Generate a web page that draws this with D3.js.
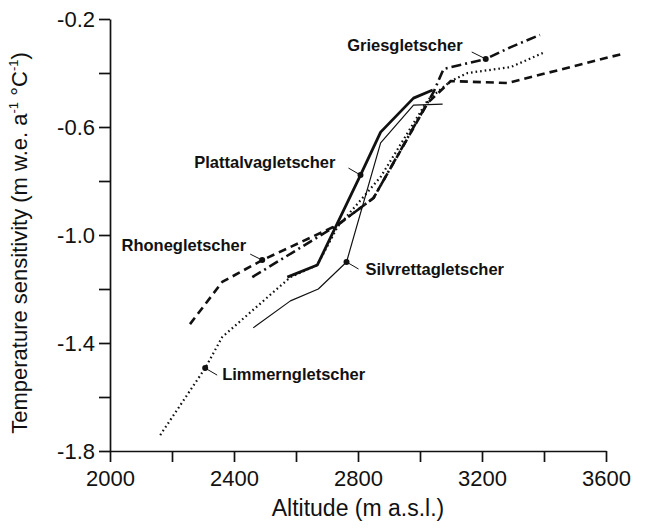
<!DOCTYPE html>
<html>
<head>
<meta charset="utf-8">
<script src="https://cdn.jsdelivr.net/npm/d3@7"></script>
<style>
  body { margin: 0; background: #fff; }
  text { font-family: "Liberation Sans", Arial, sans-serif; fill: #111; }
</style>
</head>
<body>
<div id="chart"></div>
<script>
// altitude (m a.s.l.) and temperature sensitivity (m w.e. a-1 C-1) per glacier
var griesAlt = [2459, 2734, 2850, 3044, 3076, 3212, 3293, 3387];
var griesVal = [-1.156, -0.963, -0.863, -0.47, -0.385, -0.348, -0.304, -0.259];

var rhoneAlt = [2258, 2362, 2491, 2734, 2850, 3025, 3099, 3283, 3650];
var rhoneVal = [-1.33, -1.174, -1.093, -0.963, -0.863, -0.511, -0.43, -0.437, -0.33];

var limmernAlt = [2162, 2307, 2362, 2582, 2669, 2734, 2873, 3025, 3099, 3154, 3293, 3396];
var limmernVal = [-1.741, -1.493, -1.378, -1.156, -1.111, -0.97, -0.785, -0.5, -0.43, -0.4, -0.378, -0.326];

var plattAlt = [2572, 2669, 2808, 2873, 2979, 3041];
var plattVal = [-1.156, -1.111, -0.778, -0.619, -0.493, -0.463];

var silvAlt = [2462, 2582, 2672, 2763, 2873, 2979, 3073];
var silvVal = [-1.344, -1.244, -1.2, -1.1, -0.659, -0.519, -0.515];

var xTicks = [2000, 2200, 2400, 2600, 2800, 3000, 3200, 3400, 3600];
var yTicks = [-0.2, -0.4, -0.6, -0.8, -1.0, -1.2, -1.4, -1.6, -1.8];

var glaciers = [
    {name: "Griesgletscher", alt: griesAlt, val: griesVal, dash: "10,4,2,4", width: 2.6, mark: 5},
    {name: "Rhonegletscher", alt: rhoneAlt, val: rhoneVal, dash: "8,5", width: 2.6, mark: 2},
    {name: "Limmerngletscher", alt: limmernAlt, val: limmernVal, dash: "1.6,3", width: 2.2, mark: 1},
    {name: "Plattalvagletscher", alt: plattAlt, val: plattVal, dash: null, width: 2.8, mark: 2},
    {name: "Silvrettagletscher", alt: silvAlt, val: silvVal, dash: null, width: 1.2, mark: 3}
];

// label placement relative to the marked point: leader end (dx,dy) and text anchor
var labelPlace = {
    "Griesgletscher":     {lx: -14, ly: -7, tx: -23, ty: -8, anchor: "end"},
    "Rhonegletscher":     {lx: -12, ly: -6, tx: -16, ty: -9, anchor: "end"},
    "Limmerngletscher":   {lx: 12, ly: 7, tx: 17, ty: 12, anchor: "start"},
    "Plattalvagletscher": {lx: -12, ly: -7, tx: -25, ty: -7, anchor: "end"},
    "Silvrettagletscher": {lx: 12, ly: 7, tx: 19, ty: 13, anchor: "start"}
};

var W = 645, H = 528;
var margin = {top: 19, right: 39, bottom: 77, left: 110};

var svg = d3.select("#chart").append("svg")
    .attr("width", W)
    .attr("height", H);

var x = d3.scaleLinear().domain([2000, 3600]).range([margin.left, W - margin.right]);
var y = d3.scaleLinear().domain([-1.8, -0.2]).range([H - margin.bottom, margin.top]);

var xAxis = svg.append("g")
    .attr("transform", "translate(0," + (H - margin.bottom) + ")")
    .call(d3.axisBottom(x).tickValues(xTicks).tickSize(11).tickSizeOuter(0)
        .tickFormat(function(d) { return d % 400 === 0 ? d : ""; }));
xAxis.selectAll("text").attr("font-size", "22px").attr("dy", "0.95em");

var yAxis = svg.append("g")
    .attr("transform", "translate(" + margin.left + ",0)")
    .call(d3.axisLeft(y).tickValues(yTicks).tickSize(11).tickSizeOuter(0)
        .tickFormat(function(d) {
            var k = Math.abs(Math.round(d * 10));
            return k % 4 === 2 ? "-" + d3.format(".1f")(Math.abs(d)) : "";
        }));
yAxis.selectAll("text").attr("font-size", "22px").attr("x", -15);

svg.selectAll(".domain, .tick line").attr("stroke", "#111").attr("stroke-width", 1.7);

// axis titles
svg.append("text")
    .attr("x", (margin.left + W - margin.right) / 2)
    .attr("y", H - 12)
    .attr("text-anchor", "middle")
    .attr("font-size", "23px")
    .text("Altitude (m a.s.l.)");

var yt = svg.append("text")
    .attr("transform", "translate(27," + ((margin.top + H - margin.bottom) / 2 + 8) + ") rotate(-90)")
    .attr("text-anchor", "middle")
    .attr("font-size", "22px");
yt.append("tspan").text("Temperature sensitivity (m w.e. a");
yt.append("tspan").attr("font-size", "13px").attr("dy", "-9").text("-1");
yt.append("tspan").attr("dy", "9").text(" \u00b0C");
yt.append("tspan").attr("font-size", "13px").attr("dy", "-9").text("-1");
yt.append("tspan").attr("dy", "9").text(")");

var line = d3.line()
    .x(function(d) { return x(d[0]); })
    .y(function(d) { return y(d[1]); });

glaciers.forEach(function(g) {
    var pts = g.alt.map(function(a, i) { return [a, g.val[i]]; });
    svg.append("path")
        .datum(pts)
        .attr("d", line)
        .attr("fill", "none")
        .attr("stroke", "#111")
        .attr("stroke-width", g.width)
        .attr("stroke-dasharray", g.dash)
        .attr("stroke-linejoin", "round");

    var p = pts[g.mark];
    var px = x(p[0]), py = y(p[1]);
    var lp = labelPlace[g.name];
    svg.append("circle").attr("cx", px).attr("cy", py).attr("r", 3).attr("fill", "#111");
    svg.append("line")
        .attr("x1", px).attr("y1", py)
        .attr("x2", px + lp.lx).attr("y2", py + lp.ly)
        .attr("stroke", "#111").attr("stroke-width", 1);
    svg.append("text")
        .attr("x", px + lp.tx)
        .attr("y", py + lp.ty)
        .attr("text-anchor", lp.anchor)
        .attr("font-size", "16.5px")
        .attr("font-weight", "bold")
        .text(g.name);
});
</script>
</body>
</html>
